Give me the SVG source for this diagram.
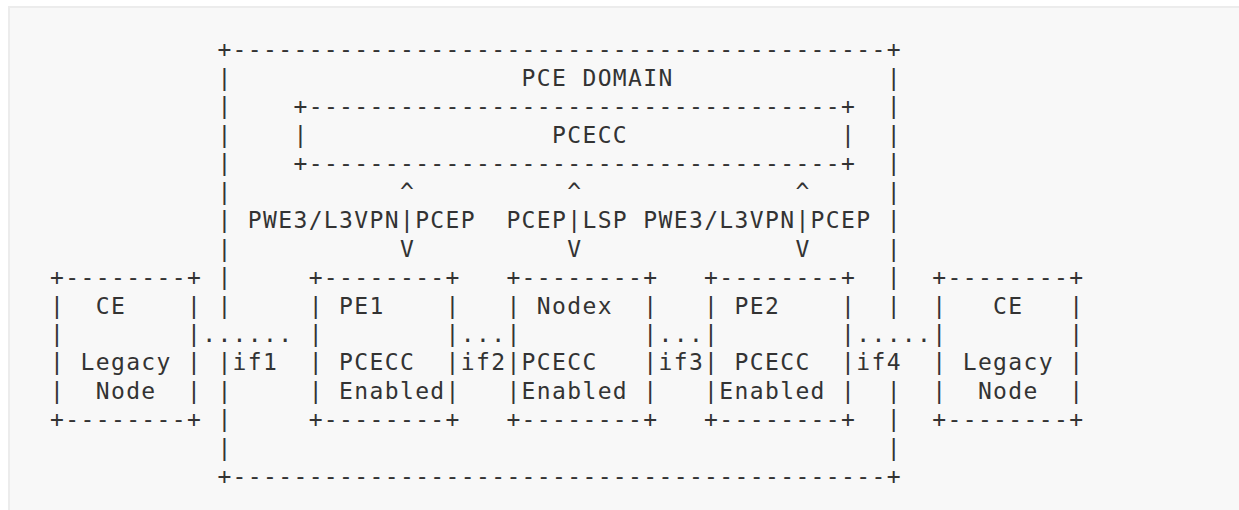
<svg xmlns="http://www.w3.org/2000/svg" width="1239" height="510" viewBox="0 0 1239 510" xml:space="preserve">
<style>
text{font-family:"DejaVu Sans Mono","Liberation Mono",monospace;font-size:23px;letter-spacing:1.363px;fill:#333;white-space:pre}
</style>
<rect x="0" y="0" width="1239" height="510" fill="#ffffff"/>
<rect x="8" y="6" width="1231" height="504" fill="#ececec"/>
<rect x="10" y="8" width="1229" height="502" fill="#f8f8f8"/>
<g transform="translate(50.1,57.3)">
<g id="pce-domain">
<text x="167.31" y="0">+-------------------------------------------+</text>
<text x="471.51" y="28.47">PCE DOMAIN</text>
<text x="167.31" y="28.47">|</text><text x="836.55" y="28.47">|</text>
<text x="167.31" y="56.94">|</text><text x="836.55" y="56.94">|</text>
<text x="167.31" y="85.41">|</text><text x="836.55" y="85.41">|</text>
<text x="167.31" y="113.88">|</text><text x="836.55" y="113.88">|</text>
<text x="167.31" y="142.35">|</text><text x="836.55" y="142.35">|</text>
<text x="167.31" y="170.82">|</text><text x="836.55" y="170.82">|</text>
<text x="167.31" y="199.29">|</text><text x="836.55" y="199.29">|</text>
<text x="167.31" y="227.76">|</text><text x="836.55" y="227.76">|</text>
<text x="167.31" y="256.23">|</text><text x="836.55" y="256.23">|</text>
<text x="167.31" y="313.17">|</text>
<text x="167.31" y="341.64">|</text><text x="836.55" y="341.64">|</text>
<text x="167.31" y="370.11">|</text><text x="836.55" y="370.11">|</text>
<text x="167.31" y="398.58">|</text><text x="836.55" y="398.58">|</text>
<text x="167.31" y="427.05">+-------------------------------------------+</text>
</g>
<g id="pcecc">
<text x="243.36" y="56.94">+-----------------------------------+</text>
<text x="243.36" y="85.41">|</text>
<text x="501.93" y="85.41">PCECC</text>
<text x="790.92" y="85.41">|</text>
<text x="243.36" y="113.88">+-----------------------------------+</text>
</g>
<g id="ce-left">
<text x="0" y="227.76">+--------+</text>
<text x="0" y="256.23">|</text><text x="45.63" y="256.23">CE</text><text x="136.89" y="256.23">|</text>
<text x="0" y="284.7">|</text><text x="136.89" y="284.7">|</text>
<text x="0" y="313.17">|</text><text x="30.42" y="313.17">Legacy</text><text x="136.89" y="313.17">|</text>
<text x="0" y="341.64">|</text><text x="45.63" y="341.64">Node</text><text x="136.89" y="341.64">|</text>
<text x="0" y="370.11">+--------+</text>
</g>
<g id="pe1">
<text x="258.57" y="227.76">+--------+</text>
<text x="258.57" y="256.23">|</text><text x="288.99" y="256.23">PE1</text><text x="395.46" y="256.23">|</text>
<text x="258.57" y="284.7">|</text><text x="395.46" y="284.7">|</text>
<text x="258.57" y="313.17">|</text><text x="288.99" y="313.17">PCECC</text><text x="395.46" y="313.17">|</text>
<text x="258.57" y="341.64">|</text><text x="288.99" y="341.64">Enabled</text><text x="395.46" y="341.64">|</text>
<text x="258.57" y="370.11">+--------+</text>
</g>
<g id="nodex">
<text x="456.3" y="227.76">+--------+</text>
<text x="456.3" y="256.23">|</text><text x="486.72" y="256.23">Nodex</text><text x="593.19" y="256.23">|</text>
<text x="456.3" y="284.7">|</text><text x="593.19" y="284.7">|</text>
<text x="456.3" y="313.17">|</text><text x="471.51" y="313.17">PCECC</text><text x="593.19" y="313.17">|</text>
<text x="456.3" y="341.64">|</text><text x="471.51" y="341.64">Enabled</text><text x="593.19" y="341.64">|</text>
<text x="456.3" y="370.11">+--------+</text>
</g>
<g id="pe2">
<text x="654.03" y="227.76">+--------+</text>
<text x="654.03" y="256.23">|</text><text x="684.45" y="256.23">PE2</text><text x="790.92" y="256.23">|</text>
<text x="654.03" y="284.7">|</text><text x="790.92" y="284.7">|</text>
<text x="654.03" y="313.17">|</text><text x="684.45" y="313.17">PCECC</text><text x="790.92" y="313.17">|</text>
<text x="654.03" y="341.64">|</text><text x="669.24" y="341.64">Enabled</text><text x="790.92" y="341.64">|</text>
<text x="654.03" y="370.11">+--------+</text>
</g>
<g id="ce-right">
<text x="882.18" y="227.76">+--------+</text>
<text x="882.18" y="256.23">|</text><text x="943.02" y="256.23">CE</text><text x="1019.07" y="256.23">|</text>
<text x="882.18" y="284.7">|</text><text x="1019.07" y="284.7">|</text>
<text x="882.18" y="313.17">|</text><text x="912.6" y="313.17">Legacy</text><text x="1019.07" y="313.17">|</text>
<text x="882.18" y="341.64">|</text><text x="927.81" y="341.64">Node</text><text x="1019.07" y="341.64">|</text>
<text x="882.18" y="370.11">+--------+</text>
</g>
<g id="connectors">
<text x="349.83" y="142.35">^</text>
<text x="517.14" y="142.35">^</text>
<text x="745.29" y="142.35">^</text>
<text x="197.73" y="170.82">PWE3/L3VPN|PCEP</text>
<text x="456.3" y="170.82">PCEP|LSP</text>
<text x="593.19" y="170.82">PWE3/L3VPN|PCEP</text>
<text x="349.83" y="199.29">V</text>
<text x="517.14" y="199.29">V</text>
<text x="745.29" y="199.29">V</text>
<text x="152.1" y="284.7">......</text>
<text x="410.67" y="284.7">...</text>
<text x="608.4" y="284.7">...</text>
<text x="806.13" y="284.7">.....</text>
<text x="182.52" y="313.17">if1</text>
<text x="410.67" y="313.17">if2</text>
<text x="608.4" y="313.17">if3</text>
<text x="806.13" y="313.17">if4</text>
</g>
</g>
</svg>
